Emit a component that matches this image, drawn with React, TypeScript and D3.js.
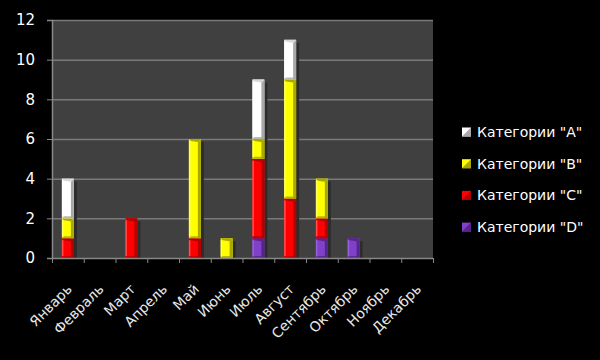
import React, { useEffect, useRef } from 'react';
import * as d3 from 'd3';

const months = ['Январь', 'Февраль', 'Март', 'Апрель', 'Май', 'Июнь', 'Июль', 'Август', 'Сентябрь', 'Октябрь', 'Ноябрь', 'Декабрь'];
const seriesNames = ['Категории "A"', 'Категории "B"', 'Категории "C"', 'Категории "D"'];
const catA = [2, 0, 0, 0, 0, 0, 3, 2, 0, 0, 0, 0];
const catB = [1, 0, 0, 0, 5, 1, 1, 6, 2, 0, 0, 0];
const catC = [1, 0, 2, 0, 1, 0, 4, 3, 1, 0, 0, 0];
const catD = [0, 0, 0, 0, 0, 0, 1, 0, 1, 1, 0, 0];
const yTicks = [0, 2, 4, 6, 8, 10, 12];

const colors: Record<string, string> = { A: '#ffffff', B: '#ffff00', C: '#ff0000', D: '#8040c8' };
const darks: Record<string, string> = { A: '#a8a8a8', B: '#a8a800', C: '#b00000', D: '#55258a' };
const lights: Record<string, string> = { A: '#ffffff', B: '#ffff90', C: '#ff7070', D: '#a070e0' };

const App: React.FC = () => {
  const svgRef = useRef<SVGSVGElement>(null);

  useEffect(() => {
    if (!svgRef.current) return;
    const width = 600;
    const height = 360;
    const plot = { left: 52, right: 433, top: 20, bottom: 258 };

    const rows = months.map((m, i) => ({ month: m, A: catA[i], B: catB[i], C: catC[i], D: catD[i] }));
    // bottom to top: D, C, B, A
    const stacked = d3.stack<any>().keys(['D', 'C', 'B', 'A'])(rows);

    const svg = d3.select(svgRef.current);
    svg.selectAll('*').remove();
    svg.attr('width', width).attr('height', height).attr('viewBox', `0 0 ${width} ${height}`);

    svg.append('rect').attr('width', width).attr('height', height).attr('fill', '#000');

    const x = d3.scaleBand().domain(months).range([plot.left, plot.right]).padding(0);
    const y = d3.scaleLinear().domain([0, 12]).range([plot.bottom, plot.top]);

    svg.append('rect')
      .attr('x', plot.left).attr('y', plot.top)
      .attr('width', plot.right - plot.left).attr('height', plot.bottom - plot.top)
      .attr('fill', '#404040');

    // gridlines
    svg.append('g')
      .selectAll('line')
      .data(yTicks.filter(t => t > 0))
      .enter()
      .append('line')
      .attr('x1', plot.left).attr('x2', plot.right)
      .attr('y1', d => y(d) + 0.5).attr('y2', d => y(d) + 0.5)
      .attr('stroke', '#7a7a7a').attr('stroke-width', 1.5);

    const barW = 12;
    const bars = svg.append('g');

    // shadows
    bars.selectAll('rect.shadow')
      .data(rows.map((r, i) => ({ m: r.month, total: catA[i] + catB[i] + catC[i] + catD[i] })).filter(d => d.total > 0))
      .enter()
      .append('rect')
      .attr('class', 'shadow')
      .attr('x', d => (x(d.m) as number) + x.bandwidth() / 2 - barW / 2 + barW)
      .attr('y', d => y(d.total) + 3)
      .attr('width', 3)
      .attr('height', d => plot.bottom - y(d.total) - 3)
      .attr('fill', '#2c2c2c');

    stacked.forEach(layer => {
      const key = layer.key;
      layer.forEach(seg => {
        if (seg[1] - seg[0] <= 0) return;
        const m = seg.data.month;
        const x0 = (x(m) as number) + x.bandwidth() / 2 - barW / 2;
        const y0 = y(seg[1]);
        const h = y(seg[0]) - y(seg[1]);
        const g = bars.append('g');
        g.append('rect').attr('x', x0).attr('y', y0).attr('width', barW).attr('height', h).attr('fill', colors[key]);
        // right bevel
        g.append('path')
          .attr('d', `M${x0 + barW - 3},${y0 + 3} L${x0 + barW},${y0} L${x0 + barW},${y0 + h} L${x0 + barW - 3},${y0 + h} Z`)
          .attr('fill', darks[key]);
        // top bevel
        g.append('path')
          .attr('d', `M${x0},${y0} L${x0 + barW},${y0} L${x0 + barW - 3},${y0 + 3} L${x0 + 2},${y0 + 2} Z`)
          .attr('fill', key === 'A' ? '#d8d8d8' : darks[key]);
        // bottom bevel
        g.append('path')
          .attr('d', `M${x0},${y0 + h} L${x0 + barW},${y0 + h} L${x0 + barW - 3},${y0 + h - 2} L${x0 + 2},${y0 + h - 2} Z`)
          .attr('fill', darks[key]).attr('opacity', 0.8);
        // left highlight
        g.append('rect').attr('x', x0).attr('y', y0 + 2).attr('width', 1.5).attr('height', Math.max(0, h - 4))
          .attr('fill', lights[key]).attr('opacity', 0.7);
      });
    });

    // axes
    svg.append('g')
      .attr('transform', `translate(${plot.left},0)`)
      .call(d3.axisLeft(y).tickValues(yTicks).tickSize(5).tickPadding(12).tickFormat(d3.format('d')))
      .call(g => g.select('.domain').attr('stroke', '#888').attr('stroke-width', 1.5))
      .call(g => g.selectAll('.tick line').attr('stroke', '#888'))
      .call(g => g.selectAll('.tick text').attr('fill', '#fff').style('font-family', '"DejaVu Sans"').style('font-size', '15px'));

    const xb = svg.append('g').attr('transform', `translate(0,${plot.bottom})`);
    xb.append('line').attr('x1', plot.left).attr('x2', plot.right).attr('y1', 0.5).attr('y2', 0.5)
      .attr('stroke', '#888').attr('stroke-width', 1.5);
    const bounds = months.map(m => x(m) as number).concat([plot.right]);
    xb.selectAll('line.tk').data(bounds).enter().append('line')
      .attr('class', 'tk')
      .attr('x1', d => d + 0.5).attr('x2', d => d + 0.5).attr('y1', 0).attr('y2', 5)
      .attr('stroke', '#888');

    svg.append('g')
      .selectAll('text')
      .data(months)
      .enter()
      .append('text')
      .attr('transform', d => `translate(${(x(d) as number) + x.bandwidth() / 2 + 5},${plot.bottom + 32}) rotate(-45)`)
      .attr('text-anchor', 'end')
      .attr('fill', '#e8e8e8')
      .style('font-family', '"DejaVu Sans"')
      .style('font-size', '14px')
      .text(d => d);

    // legend
    const legendKeys = ['A', 'B', 'C', 'D'];
    const leg = svg.append('g');
    legendKeys.forEach((k, i) => {
      const cy = 132 + i * 31.7;
      leg.append('rect').attr('x', 462).attr('y', cy - 4.5).attr('width', 9).attr('height', 9).attr('fill', colors[k]);
      leg.append('path')
        .attr('d', `M462,${cy + 4.5} L471,${cy - 4.5} L471,${cy + 4.5} Z`)
        .attr('fill', darks[k]);
      leg.append('text')
        .attr('x', 477).attr('y', cy + 5)
        .attr('fill', '#fff')
        .style('font-family', '"DejaVu Sans"')
        .style('font-size', '14px')
        .text(seriesNames[i]);
    });
  }, []);

  return (
    <div style={{ position: 'fixed', left: 0, top: 0, width: 600, height: 360, background: '#000' }}>
      <svg ref={svgRef} style={{ display: 'block' }} />
    </div>
  );
};

export default App;
